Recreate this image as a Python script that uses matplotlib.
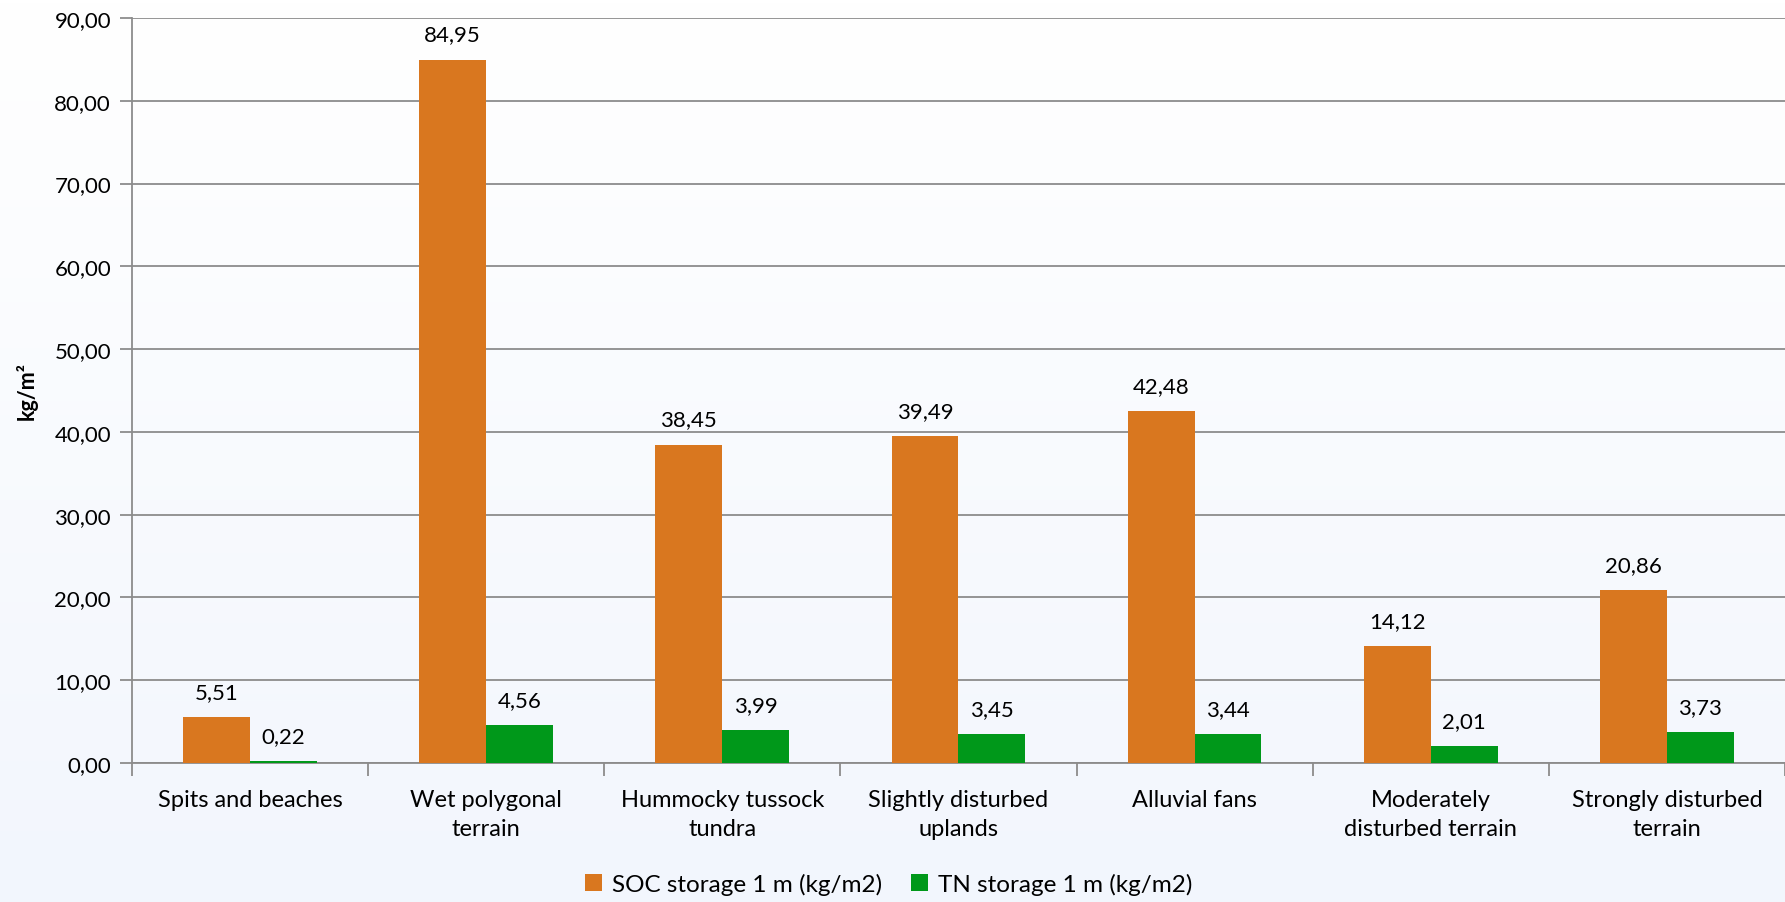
import numpy as np
import matplotlib.pyplot as plt
from matplotlib.ticker import FuncFormatter, FixedLocator

plt.rcParams['font.family'] = ['Lato', 'DejaVu Sans']

categories = ['Spits and beaches', 'Wet polygonal\nterrain', 'Hummocky tussock\ntundra',
              'Slightly disturbed\nuplands', 'Alluvial fans', 'Moderately\ndisturbed terrain',
              'Strongly disturbed\nterrain']
soc = [5.51, 84.95, 38.45, 39.49, 42.48, 14.12, 20.86]
tn = [0.22, 4.56, 3.99, 3.45, 3.44, 2.01, 3.73]
series_names = ['SOC storage 1 m (kg/m2)', 'TN storage 1 m (kg/m2)']
yticks = np.arange(0, 91, 10)

c_soc = '#D9771F'
c_tn = '#00981A'
grid_c = '#8C8C8C'

def comma(v, pos=None):
    return f'{v:.2f}'.replace('.', ',')

fig = plt.figure(figsize=(17.85, 9.03), dpi=100)

# background gradient (white -> pale blue)
bg = fig.add_axes([0, 0, 1, 1], zorder=-10)
grad = np.linspace(0, 1, 256).reshape(-1, 1)
top = np.array([1.0, 1.0, 1.0])
bot = np.array([0xF2, 0xF6, 0xFD]) / 255
img = top[None, None, :] * (1 - grad[:, :, None]) + bot[None, None, :] * grad[:, :, None]
bg.imshow(img, aspect='auto', extent=[0, 1, 0, 1])
bg.axis('off')

ax = fig.add_axes([0.0739, 0.154, 0.9261, 0.825])
ax.set_facecolor('none')

x = np.arange(len(categories))
w = 0.283
b1 = ax.bar(x - w / 2, soc, w, color=c_soc, label=series_names[0], zorder=3)
b2 = ax.bar(x + w / 2, tn, w, color=c_tn, label=series_names[1], zorder=3)

for bars, vals in ((b1, soc), (b2, tn)):
    for r, v in zip(bars, vals):
        ax.annotate(comma(v), (r.get_x() + r.get_width() / 2, v), xytext=(0, 11),
                    textcoords='offset points', ha='center', va='bottom', fontsize=16)

ax.set_xlim(-0.5, len(categories) - 0.5)
ax.set_ylim(0, 90)
ax.set_yticks(yticks)
ax.yaxis.set_major_formatter(FuncFormatter(comma))
ax.yaxis.grid(True, color=grid_c, linewidth=1.3, zorder=0)
ax.set_axisbelow(True)

ax.set_xticks(x)
ax.set_xticklabels(categories, fontsize=17, linespacing=1.45)
ax.tick_params(axis='x', which='major', length=0, pad=19)
ax.xaxis.set_minor_locator(FixedLocator(np.arange(-0.5, len(categories), 1)))
ax.tick_params(axis='x', which='minor', length=9, width=1.3, color=grid_c)
ax.tick_params(axis='y', length=9, width=1.3, color=grid_c, labelsize=16, pad=6)

for s in ['top', 'right']:
    ax.spines[s].set_visible(False)
for s in ['left', 'bottom']:
    ax.spines[s].set_color(grid_c)
    ax.spines[s].set_linewidth(1.3)

ax.set_ylabel('kg/m²', fontsize=15.5, fontweight='bold', labelpad=12)

fig.legend(handles=[b1, b2], loc='center', bbox_to_anchor=(0.498, 0.02),
           ncol=2, frameon=False, fontsize=17.5, handlelength=0.7, handleheight=0.7,
           columnspacing=1.2, handletextpad=0.4)

fig.savefig('out.png', dpi=100)
